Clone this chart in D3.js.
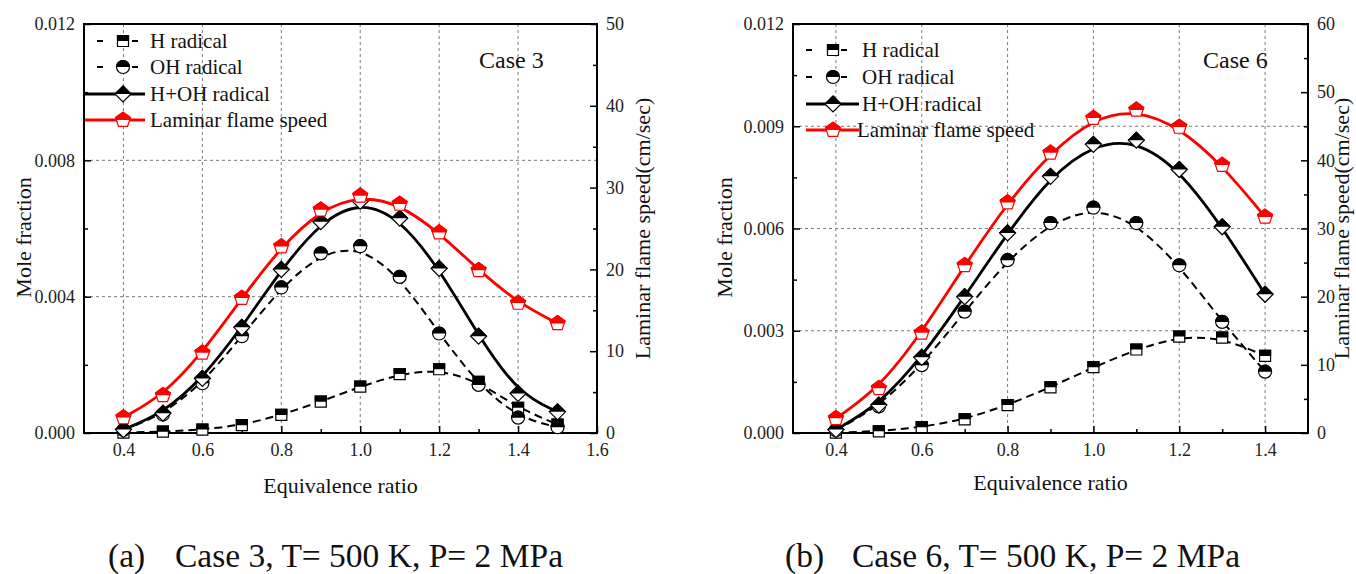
<!DOCTYPE html>
<html>
<head>
<meta charset="utf-8">
<script src="https://cdn.jsdelivr.net/npm/d3@7"></script>
<style>
  body { margin: 0; background: #fff; }
  svg { display: block; font-family: "Liberation Serif", "Times New Roman", serif; }
</style>
</head>
<body>
<div id="chart-container"></div>
<script>
// Data
const phiCase3 = [0.4, 0.5, 0.6, 0.7, 0.8, 0.9, 1.0, 1.1, 1.2, 1.3, 1.4, 1.5];
const hCase3 = [0.00001, 0.00004, 0.0001, 0.00023, 0.00053, 0.00092, 0.00136, 0.00173, 0.00187, 0.0015, 0.00074, 0.00025];
const ohCase3 = [0.00009, 0.00054, 0.00146, 0.00284, 0.00427, 0.00527, 0.00548, 0.00458, 0.00292, 0.00141, 0.00045, 0.00017];
const hohCase3 = [0.0001, 0.00058, 0.0016, 0.0031, 0.0048, 0.0062, 0.0068, 0.0063, 0.00483, 0.00284, 0.00116, 0.00062];
const speedCase3 = [1.9, 4.6, 9.8, 16.5, 22.8, 27.3, 29.0, 28.0, 24.5, 19.9, 15.9, 13.4];

const phiCase6 = [0.4, 0.5, 0.6, 0.7, 0.8, 0.9, 1.0, 1.1, 1.2, 1.3, 1.4];
const hCase6 = [0.00001, 0.00005, 0.00017, 0.0004, 0.00082, 0.00134, 0.00193, 0.00245, 0.00283, 0.0028, 0.00226];
const ohCase6 = [0.00008, 0.00078, 0.00199, 0.00356, 0.00507, 0.00616, 0.00661, 0.00616, 0.00492, 0.00326, 0.0018];
const hohCase6 = [0.0001, 0.00082, 0.00222, 0.004, 0.00587, 0.00753, 0.00847, 0.00859, 0.00773, 0.00605, 0.00407];
const speedCase6 = [2.15, 6.55, 14.7, 24.6, 33.8, 41.1, 46.2, 47.4, 44.9, 39.3, 31.7];

const seriesNames = ["H radical", "OH radical", "H+OH radical", "Laminar flame speed"];

const xTicksCase3 = [0.4, 0.6, 0.8, 1.0, 1.2, 1.4, 1.6];
const xMinorCase3 = [0.5, 0.7, 0.9, 1.1, 1.3, 1.5];
const xTicksCase6 = [0.4, 0.6, 0.8, 1.0, 1.2, 1.4];
const xMinorCase6 = [0.5, 0.7, 0.9, 1.1, 1.3];
const yTicksCase3 = [0, 0.004, 0.008, 0.012];
const yMinorCase3 = [0.002, 0.006, 0.01];
const yTicksCase6 = [0, 0.003, 0.006, 0.009, 0.012];
const yMinorCase6 = [0.0015, 0.0045, 0.0075, 0.0105];
const speedTicksCase3 = [0, 10, 20, 30, 40, 50];
const speedTicksCase6 = [0, 10, 20, 30, 40, 50, 60];

const width = 1356;
const height = 574;
const font = "'Liberation Serif', 'Times New Roman', serif";

const svg = d3
  .select("#chart-container")
  .append("svg")
  .attr("width", width)
  .attr("height", height);

// clip used to fill only the upper half of each marker
svg
  .append("defs")
  .append("clipPath")
  .attr("id", "top-half")
  .attr("clipPathUnits", "userSpaceOnUse")
  .append("rect")
  .attr("x", -20)
  .attr("y", -20)
  .attr("width", 40)
  .attr("height", 20);

const pentagon = (r) =>
  d3.range(5).map((k) => {
    const a = (-90 + 72 * k) * Math.PI / 180;
    return [r * Math.cos(a), r * Math.sin(a)];
  });

function markerPath(type) {
  if (type === "square") return "M-5.5,-5.5H5.5V5.5H-5.5Z";
  if (type === "circle") return "M-6.5,0A6.5,6.5 0 1,1 6.5,0A6.5,6.5 0 1,1 -6.5,0Z";
  if (type === "diamond") return "M0,-8L8,0L0,8L-8,0Z";
  return "M" + pentagon(7.8).map((p) => p.join(",")).join("L") + "Z";
}

function drawMarker(g, type, color) {
  const d = markerPath(type);
  g.append("path").attr("d", d).attr("fill", "#fff").attr("stroke", color).attr("stroke-width", 1.2);
  g.append("path").attr("d", d).attr("fill", color).attr("stroke", color).attr("stroke-width", 1.2)
    .attr("clip-path", "url(#top-half)");
}

const panels = [
  {
    left: 84, right: 597, top: 24, bottom: 433,
    xDomain: [0.3, 1.6], xTicks: xTicksCase3, xMinor: xMinorCase3,
    yTicks: yTicksCase3, yMinor: yMinorCase3, speedMax: 50, speedTicks: speedTicksCase3,
    phi: phiCase3, h: hCase3, oh: ohCase3, hoh: hohCase3, speed: speedCase3,
    legendX: 85, legendDashX: 97, legendMarkX: 123, legendEnd: 145, legendDashEnd: 140,
    legendTextX: [150, 150, 150, 150], legendY: [41, 67, 94, 120],
    caseLabel: "Case 3", caseX: 479,
    leftTitleX: 23, rightTitleX: 642, xTitleY: 493,
    tag: "(a)", tagX: 108, caption: "Case 3, T= 500 K, P= 2 MPa", captionX: 175,
  },
  {
    left: 793, right: 1308, top: 24, bottom: 433,
    xDomain: [0.3, 1.5], xTicks: xTicksCase6, xMinor: xMinorCase6,
    yTicks: yTicksCase6, yMinor: yMinorCase6, speedMax: 60, speedTicks: speedTicksCase6,
    phi: phiCase6, h: hCase6, oh: ohCase6, hoh: hohCase6, speed: speedCase6,
    legendX: 806, legendDashX: 806, legendMarkX: 833, legendEnd: 859, legendDashEnd: 850,
    legendTextX: [862, 862, 862, 857], legendY: [50, 77, 104, 130],
    caseLabel: "Case 6", caseX: 1203,
    leftTitleX: 724, rightTitleX: 1341, xTitleY: 490,
    tag: "(b)", tagX: 785, caption: "Case 6, T= 500 K, P= 2 MPa", captionX: 852,
  },
];

panels.forEach((p) => {
  const xScale = d3.scaleLinear().domain(p.xDomain).range([p.left, p.right]);
  const yScale = d3.scaleLinear().domain([0, 0.012]).range([p.bottom, p.top]);
  const ySpeed = d3.scaleLinear().domain([0, p.speedMax]).range([p.bottom, p.top]);
  const g = svg.append("g");

  // grid
  const grid = g.append("g").attr("stroke", "#7a7a7a").attr("stroke-width", 1).attr("stroke-dasharray", "3,3");
  p.xTicks.filter((t) => t < p.xDomain[1] - 1e-9).forEach((t) => {
    grid.append("line").attr("x1", xScale(t)).attr("x2", xScale(t)).attr("y1", p.top).attr("y2", p.bottom);
  });
  p.yTicks.filter((t) => t > 0 && t < 0.012).forEach((t) => {
    grid.append("line").attr("x1", p.left).attr("x2", p.right).attr("y1", yScale(t)).attr("y2", yScale(t));
  });

  // axes (ticks pointing inside)
  const styleAxis = (sel) => {
    sel.select(".domain").remove();
    sel.selectAll("text").attr("font-family", font).attr("font-size", 18).attr("fill", "#222");
    sel.selectAll("line").attr("stroke", "#000").attr("stroke-width", 1.5);
  };
  g.append("g").attr("transform", `translate(0,${p.bottom})`)
    .call(d3.axisBottom(xScale).tickValues(p.xTicks).tickFormat(d3.format(".1f")).tickSize(-7).tickPadding(10))
    .call(styleAxis);
  g.append("g").attr("transform", `translate(0,${p.bottom})`)
    .call(d3.axisBottom(xScale).tickValues(p.xMinor).tickFormat("").tickSize(-4))
    .call(styleAxis);
  g.append("g").attr("transform", `translate(${p.left},0)`)
    .call(d3.axisLeft(yScale).tickValues(p.yTicks).tickFormat(d3.format(".3f")).tickSize(-7).tickPadding(9))
    .call(styleAxis);
  g.append("g").attr("transform", `translate(${p.left},0)`)
    .call(d3.axisLeft(yScale).tickValues(p.yMinor).tickFormat("").tickSize(-4))
    .call(styleAxis);
  g.append("g").attr("transform", `translate(${p.right},0)`)
    .call(d3.axisRight(ySpeed).tickValues(p.speedTicks).tickFormat(d3.format("d")).tickSize(-7).tickPadding(9))
    .call(styleAxis);
  g.append("g").attr("transform", `translate(${p.right},0)`)
    .call(d3.axisRight(ySpeed).tickValues(d3.range(5, p.speedMax, 10)).tickFormat("").tickSize(-4))
    .call(styleAxis);

  // frame
  g.append("rect")
    .attr("x", p.left).attr("y", p.top)
    .attr("width", p.right - p.left).attr("height", p.bottom - p.top)
    .attr("fill", "none").attr("stroke", "#000").attr("stroke-width", 2);

  // series
  const series = [
    { values: p.h, scale: yScale, marker: "square", color: "#000", width: 2, dash: "8,5" },
    { values: p.oh, scale: yScale, marker: "circle", color: "#000", width: 2, dash: "8,5" },
    { values: p.hoh, scale: yScale, marker: "diamond", color: "#000", width: 2.8, dash: null },
    { values: p.speed, scale: ySpeed, marker: "pentagon", color: "#ff0000", width: 2.8, dash: null },
  ];
  series.forEach((s) => {
    const line = d3.line()
      .x((d, i) => xScale(p.phi[i]))
      .y((d) => s.scale(d))
      .curve(d3.curveBasis);
    g.append("path").datum(s.values)
      .attr("fill", "none").attr("stroke", s.color).attr("stroke-width", s.width)
      .attr("stroke-dasharray", s.dash).attr("d", line);
    s.values.forEach((v, i) => {
      drawMarker(g.append("g").attr("transform", `translate(${xScale(p.phi[i])},${s.scale(v)})`), s.marker, s.color);
    });
  });

  // legend
  series.forEach((s, i) => {
    const y = p.legendY[i];
    const x1 = s.dash ? p.legendDashX : p.legendX;
    const x2 = s.dash ? p.legendDashEnd : p.legendEnd;
    g.append("line").attr("x1", x1).attr("x2", x2).attr("y1", y).attr("y2", y)
      .attr("stroke", s.color).attr("stroke-width", s.width)
      .attr("stroke-dasharray", s.dash ? "6,29" : null);
    drawMarker(g.append("g").attr("transform", `translate(${p.legendMarkX},${y})`), s.marker, s.color);
    g.append("text").attr("x", p.legendTextX[i]).attr("y", y).attr("dy", "0.35em")
      .attr("font-family", font).attr("font-size", 21).attr("fill", "#111")
      .text(seriesNames[i]);
  });

  g.append("text").attr("x", p.caseX).attr("y", 68)
    .attr("font-family", font).attr("font-size", 24).attr("fill", "#111").text(p.caseLabel);

  // axis titles
  const midY = (p.top + p.bottom) / 2;
  g.append("text").attr("transform", `translate(${p.leftTitleX},${midY + 9}) rotate(-90)`)
    .attr("text-anchor", "middle").attr("dy", "0.35em")
    .attr("font-family", font).attr("font-size", 22).attr("fill", "#111").text("Mole fraction");
  g.append("text").attr("transform", `translate(${p.rightTitleX},${midY}) rotate(-90)`)
    .attr("text-anchor", "middle").attr("dy", "0.35em")
    .attr("font-family", font).attr("font-size", 22).attr("fill", "#111").text("Laminar flame speed(cm/sec)");
  g.append("text").attr("x", (p.left + p.right) / 2).attr("y", p.xTitleY)
    .attr("text-anchor", "middle")
    .attr("font-family", font).attr("font-size", 22).attr("fill", "#111").text("Equivalence ratio");

  // caption
  g.append("text").attr("x", p.tagX).attr("y", 567)
    .attr("font-family", font).attr("font-size", 33.5).attr("fill", "#111").text(p.tag);
  g.append("text").attr("x", p.captionX).attr("y", 567)
    .attr("font-family", font).attr("font-size", 33.5).attr("fill", "#111").text(p.caption);
});
</script>
</body>
</html>
